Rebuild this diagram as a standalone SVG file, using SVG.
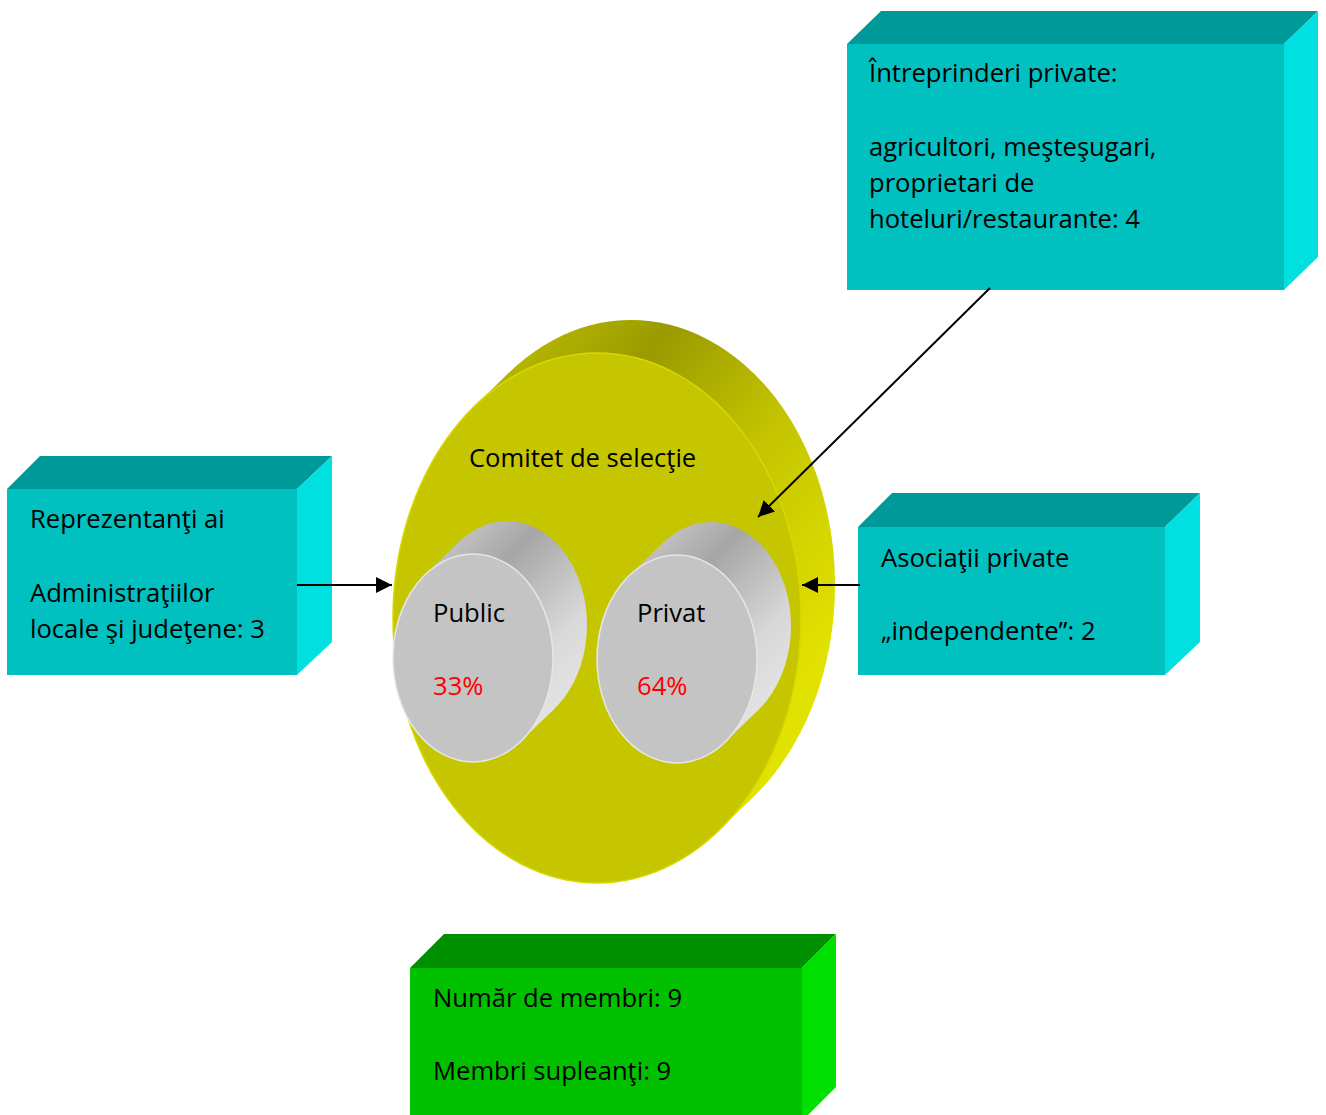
<svg xmlns="http://www.w3.org/2000/svg" width="1326" height="1115" viewBox="0 0 1326 1115">
<defs>
<style>
.t{font-family:"Open Sans","Noto Sans","Liberation Sans",sans-serif;font-size:25.6px;fill:#000}
.r{fill:#ff0000}
.tf{fill:#00C0C0}.tt{fill:#009999}.tr{fill:#00E0E0}
.gf{fill:#00C000}.gt{fill:#009000}.gr{fill:#00E000}
.cf{fill:#C4C4C4;stroke:#e6e6e6;stroke-width:1.5}
.ln{stroke:#000;stroke-width:2;fill:none}
</style>
<linearGradient id="ySide" gradientUnits="userSpaceOnUse" x1="480" y1="330" x2="840" y2="640">
<stop offset="0" stop-color="#c2c200"/>
<stop offset="0.3" stop-color="#9a9a00"/>
<stop offset="0.6" stop-color="#c4c400"/>
<stop offset="1" stop-color="#e2e200"/>
</linearGradient>
<linearGradient id="gSide1" gradientUnits="userSpaceOnUse" x1="430" y1="540" x2="590" y2="700">
<stop offset="0" stop-color="#cacaca"/>
<stop offset="0.3" stop-color="#a6a6a6"/>
<stop offset="0.7" stop-color="#d8d8d8"/>
<stop offset="1" stop-color="#e6e6e6"/>
</linearGradient>
<linearGradient id="gSide2" gradientUnits="userSpaceOnUse" x1="634" y1="541" x2="794" y2="701">
<stop offset="0" stop-color="#cacaca"/>
<stop offset="0.3" stop-color="#a6a6a6"/>
<stop offset="0.7" stop-color="#d8d8d8"/>
<stop offset="1" stop-color="#e6e6e6"/>
</linearGradient>
<marker id="ah" viewBox="0 0 16 16" refX="16" refY="8" markerWidth="16" markerHeight="16" markerUnits="userSpaceOnUse" orient="auto">
<path d="M0,0 L16,8 L0,16 z" fill="#000"/>
</marker>
</defs>

<g id="comitet">
<ellipse cx="631" cy="585" rx="204" ry="265" fill="url(#ySide)"/>
<polygon points="474.9,405.7 508.9,372.7 753.1,797.3 719.1,830.3" fill="url(#ySide)"/>
<ellipse cx="597" cy="618" rx="204" ry="265" fill="#C6C600" stroke="#d8d800" stroke-width="1.5"/>
<text class="t" x="469" y="467">Comitet de selecţie</text>
</g>

<g id="public">
<ellipse cx="507" cy="625" rx="80" ry="104" fill="url(#gSide1)"/>
<polygon points="425.1,574.7 459.1,541.7 554.9,708.3 520.9,741.3" fill="url(#gSide1)"/>
<ellipse class="cf" cx="473" cy="658" rx="80" ry="104"/>
<text class="t" x="433" y="622">Public</text>
<text class="t r" x="433" y="695">33%</text>
</g>

<g id="privat">
<ellipse cx="711" cy="626" rx="80" ry="104" fill="url(#gSide2)"/>
<polygon points="629.1,575.7 663.1,542.7 758.9,709.3 724.9,742.3" fill="url(#gSide2)"/>
<ellipse class="cf" cx="677" cy="659" rx="80" ry="104"/>
<text class="t" x="637" y="622">Privat</text>
<text class="t r" x="637" y="695">64%</text>
</g>

<g id="intreprinderi">
<polygon class="tt" points="847,44 881,11 1318,11 1284,44"/>
<polygon class="tr" points="1284,44 1318,11 1318,257 1284,290"/>
<rect class="tf" x="847" y="44" width="437" height="246"/>
<text class="t" x="869" y="82">Întreprinderi private:</text>
<text class="t" x="869" y="156">agricultori, meşteşugari,</text>
<text class="t" x="869" y="192">proprietari de</text>
<text class="t" x="869" y="228">hoteluri/restaurante: 4</text>
</g>

<g id="reprezentanti">
<polygon class="tt" points="7,489 40,456 332,456 297,489"/>
<polygon class="tr" points="297,489 332,456 332,642 297,675"/>
<rect class="tf" x="7" y="489" width="290" height="186"/>
<text class="t" x="30" y="528">Reprezentanţi ai</text>
<text class="t" x="30" y="602">Administraţiilor</text>
<text class="t" x="30" y="638">locale şi judeţene: 3</text>
</g>

<g id="asociatii">
<polygon class="tt" points="858,527 892,493 1200,493 1165,527"/>
<polygon class="tr" points="1165,527 1200,493 1200,642 1165,675"/>
<rect class="tf" x="858" y="527" width="307" height="148"/>
<text class="t" x="881" y="567">Asociaţii private</text>
<text class="t" x="881" y="640">„independente”: 2</text>
</g>

<g id="membri">
<polygon class="gt" points="410,968 444,934 836,934 802,968"/>
<polygon class="gr" points="802,968 836,934 836,1087 802,1121"/>
<rect class="gf" x="410" y="968" width="392" height="150"/>
<text class="t" x="433" y="1007">Număr de membri: 9</text>
<text class="t" x="433" y="1080">Membri supleanţi: 9</text>
</g>

<g id="connectors">
<line class="ln" x1="297" y1="585" x2="392" y2="585" marker-end="url(#ah)"/>
<line class="ln" x1="860" y1="585" x2="802" y2="585" marker-end="url(#ah)"/>
<line class="ln" x1="990" y1="288" x2="758" y2="517" marker-end="url(#ah)"/>
</g>
</svg>
